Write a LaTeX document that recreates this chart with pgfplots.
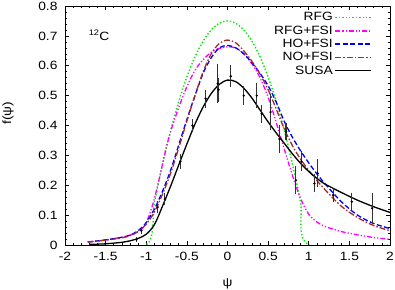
\documentclass[border=0pt]{standalone}
\usepackage{pgfplots}
\pgfplotsset{compat=1.18}
\usepackage{fontspec}
\setmainfont{Liberation Sans}[FakeStretch=1.15]
\usetikzlibrary{calc}
\definecolor{rfg}{RGB}{0,235,0}
\definecolor{mag}{RGB}{255,0,255}
\definecolor{blu}{RGB}{0,0,255}
\definecolor{brn}{RGB}{165,42,42}
\begin{document}
\begin{tikzpicture}
\begin{axis}[
  name=ax,
  scale only axis, width=325pt, height=239pt,
  xmin=-2, xmax=2, ymin=0, ymax=0.8,
  xtick={-2,-1.5,...,2}, ytick={0,0.1,...,0.8},
  xticklabels={-2,-1.5,-1,-0.5,0,0.5,1,1.5,2},
  yticklabels={0,0.1,0.2,0.3,0.4,0.5,0.6,0.7,0.8},
  minor x tick num=4, minor y tick num=4,
  tick align=inside, major tick length=4pt, minor tick length=2pt,
  tick style={black, line width=0.6pt},
  axis line style={line width=0.8pt},
  font=\fontsize{12}{14}\selectfont,
  tick label style={font=\fontsize{12}{14}\selectfont},
  xticklabel style={yshift=-4pt},
  yticklabel style={xshift=-4pt},
  xlabel={ψ}, ylabel={f(ψ)},
  xlabel style={at={(axis description cs:0.5,-0.163)}, anchor=center},
  ylabel style={at={(axis description cs:-0.175,0.552)}, anchor=center},
  legend plot pos=right,
  legend cell align=right,
  legend style={draw=none, fill=none, at={(rel axis cs:0.955,0.99)}, anchor=north east,
    font=\fontsize{12}{14}\selectfont, row sep=-0.6pt},
  legend image code/.code={\draw[#1, line width=1.4pt] (0pt,0pt) -- (36pt,0pt);},
]
% RFG
\addplot[rfg, dotted, line width=1.4pt, smooth] coordinates {
(-1.7,0) (-1.0,0) (-0.9,0.1425) (-0.8,0.27) (-0.7,0.3825) (-0.6,0.48) (-0.5,0.5625)
(-0.4,0.63) (-0.3,0.6825) (-0.2,0.72) (-0.1,0.7425) (0,0.75) (0.1,0.7425) (0.2,0.72)
(0.3,0.6825) (0.4,0.63) (0.5,0.5625) (0.6,0.48) (0.7,0.3825) (0.8,0.27) (0.9,0.1425) (1.0,0) (2.0,0)};
\addlegendentry{RFG}
% RFG+FSI
\addplot[mag, line width=1.3pt, dash pattern=on 5pt off 2pt on 1.2pt off 2pt on 1.2pt off 2pt, smooth] coordinates {
(-1.72,0.01) (-1.5,0.017) (-1.3,0.026) (-1.2,0.033) (-1.1,0.045) (-1.05,0.055) (-1.0,0.075)
(-0.95,0.11) (-0.9,0.155) (-0.85,0.21) (-0.8,0.27) (-0.75,0.33) (-0.7,0.38) (-0.6,0.46)
(-0.5,0.53) (-0.4,0.585) (-0.3,0.62) (-0.2,0.645) (-0.1,0.658) (0,0.663) (0.1,0.66)
(0.2,0.64) (0.3,0.607) (0.4,0.56) (0.5,0.495) (0.6,0.41) (0.7,0.32) (0.8,0.232) (0.9,0.155)
(1.0,0.103) (1.1,0.077) (1.2,0.062) (1.4,0.045) (1.6,0.034) (1.8,0.025) (2.0,0.019)};
\addlegendentry{RFG+FSI}
% HO+FSI
\addplot[blu, line width=1.3pt, dash pattern=on 5pt off 2.5pt, smooth] coordinates {
(-1.72,0.01) (-1.5,0.017) (-1.3,0.026) (-1.2,0.033) (-1.1,0.048) (-1.0,0.075) (-0.9,0.12)
(-0.8,0.18) (-0.7,0.25) (-0.6,0.335) (-0.5,0.42) (-0.4,0.5) (-0.3,0.575) (-0.2,0.627)
(-0.1,0.66) (0,0.668) (0.1,0.66) (0.2,0.64) (0.3,0.61) (0.4,0.575) (0.5,0.533) (0.6,0.478)
(0.7,0.413) (0.8,0.36) (0.9,0.315) (1.0,0.275) (1.1,0.238) (1.2,0.205) (1.4,0.145)
(1.6,0.1) (1.8,0.072) (2.0,0.055)};
\addlegendentry{HO+FSI}
% NO+FSI
\addplot[brn, line width=1.3pt, dash pattern=on 6pt off 2pt on 1.5pt off 2pt, smooth] coordinates {
(-1.72,0.01) (-1.5,0.016) (-1.3,0.024) (-1.2,0.031) (-1.1,0.045) (-1.0,0.07) (-0.9,0.11)
(-0.8,0.17) (-0.7,0.24) (-0.6,0.325) (-0.5,0.415) (-0.4,0.5) (-0.3,0.58) (-0.2,0.64)
(-0.1,0.675) (0,0.686) (0.1,0.677) (0.2,0.65) (0.3,0.615) (0.4,0.572) (0.5,0.52)
(0.6,0.455) (0.7,0.388) (0.8,0.332) (0.9,0.287) (1.0,0.25) (1.1,0.216) (1.2,0.185)
(1.4,0.13) (1.6,0.092) (1.8,0.065) (2.0,0.048)};
\addlegendentry{NO+FSI}
% SUSA
\addplot[black, line width=1.3pt, solid, smooth] coordinates {
(-1.7,0.002) (-1.5,0.004) (-1.3,0.009) (-1.2,0.014) (-1.1,0.022) (-1.0,0.036) (-0.9,0.068)
(-0.8,0.13) (-0.7,0.197) (-0.6,0.268) (-0.5,0.338) (-0.4,0.405) (-0.3,0.462) (-0.2,0.507)
(-0.1,0.538) (0,0.552) (0.1,0.547) (0.2,0.525) (0.3,0.492) (0.4,0.452) (0.5,0.412)
(0.6,0.375) (0.7,0.34) (0.8,0.305) (0.9,0.273) (1.0,0.246) (1.1,0.223) (1.2,0.204)
(1.4,0.176) (1.6,0.15) (1.8,0.128) (2.0,0.109)};
\addlegendentry{SUSA}
% data
\addplot[forget plot, black, line width=1.1pt, only marks, mark=*, mark size=0.55pt,
  error bars/.cd, y dir=both, y explicit, error mark=none,
  error bar style={line width=1.1pt, black!80}]
  table[x=x, y=y, y error=e] {
x y e
-1.12 0.018 0.008
-1.06 0.048 0.01
-0.86 0.127 0.02
-0.77 0.153 0.02
-0.58 0.28 0.025
-0.43 0.40 0.022
-0.27 0.49 0.03
-0.12 0.54 0.065
-0.11 0.52 0.04
0.04 0.565 0.036
0.20 0.50 0.033
0.36 0.50 0.042
0.42 0.44 0.03
0.53 0.445 0.06
0.64 0.355 0.047
0.72 0.38 0.03
0.84 0.217 0.047
0.91 0.28 0.033
1.07 0.206 0.03
1.11 0.24 0.047
1.30 0.167 0.024
1.53 0.145 0.028
1.78 0.123 0.05
};
\node[anchor=west, inner sep=0pt] at (axis cs:-1.71,0.702) {\textsuperscript{12}C};
\end{axis}
\pgfresetboundingbox
\path ($(ax.south west)+(-65pt,-45pt)$) rectangle ($(ax.north east)+(5pt,6pt)$);
\end{tikzpicture}
\end{document}
